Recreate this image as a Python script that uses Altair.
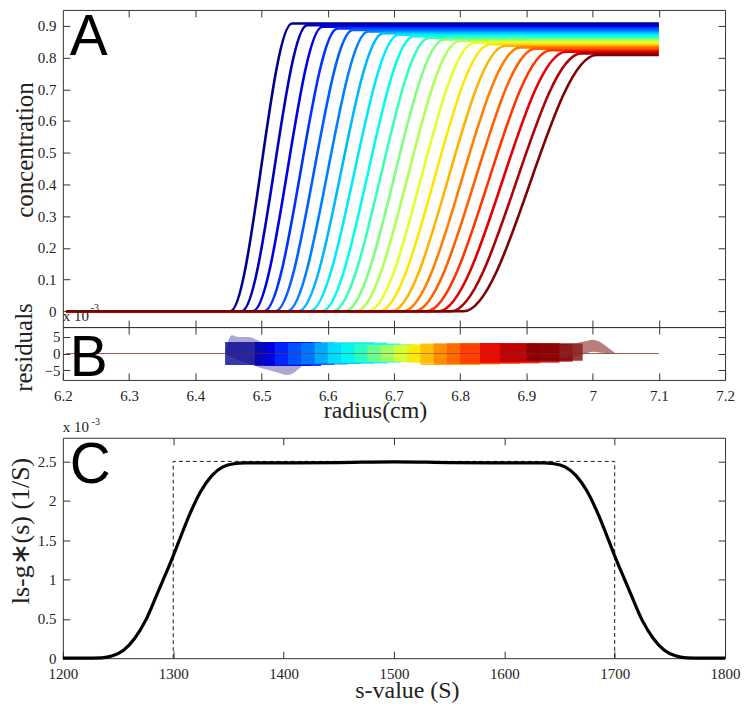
import altair as alt
import pandas as pd

# ---------------- Panel A: concentration profiles (one per scan) ----------------
foot = [6.453, 6.470, 6.487, 6.504, 6.521, 6.539, 6.556, 6.573, 6.591, 6.608, 6.626,
        6.643, 6.661, 6.678, 6.696, 6.714, 6.731, 6.749, 6.767, 6.786, 6.805]
shoulder = [6.546, 6.569, 6.592, 6.615, 6.638, 6.661, 6.684, 6.707, 6.730, 6.753, 6.776,
            6.799, 6.822, 6.845, 6.868, 6.891, 6.914, 6.937, 6.960, 6.983, 7.006]
plateau = [0.907, 0.902, 0.897, 0.892, 0.887, 0.882, 0.877, 0.872, 0.867, 0.862, 0.857,
           0.852, 0.847, 0.842, 0.837, 0.832, 0.828, 0.823, 0.818, 0.813, 0.808]
r_first = 6.205
r_last = 7.10

# ---------------- Panel B: residual envelopes (x 10^-3) ----------------
res_start = [6.445, 6.490, 6.505, 6.520, 6.540, 6.560, 6.580, 6.600, 6.620, 6.640, 6.660,
             6.680, 6.700, 6.720, 6.740, 6.760, 6.780, 6.800, 6.830, 6.860, 6.900]
res_end = [6.560, 6.575, 6.590, 6.610, 6.630, 6.650, 6.670, 6.690, 6.710, 6.730, 6.750,
           6.770, 6.790, 6.810, 6.830, 6.860, 6.890, 6.920, 6.950, 6.970, 6.985]
res_hi = [3.5, 3.5, 3.5, 3.3, 3.2, 3.2, 3.3, 3.3, 3.0, 2.8, 2.6,
          2.5, 2.6, 2.8, 3.0, 3.0, 3.1, 3.1, 3.2, 3.0, 3.0]
res_lo = [-3.5, -3.8, -3.8, -3.5, -3.3, -3.2, -3.0, -3.0, -2.8, -2.6, -2.4,
          -2.4, -2.5, -2.8, -3.5, -3.3, -3.2, -3.0, -2.8, -2.5, -2.2]
first_r = [6.445, 6.455, 6.465, 6.480, 6.500, 6.520, 6.540, 6.560, 6.580]
first_hi = [0.0, 5.5, 5.0, 5.0, 3.5, 2.5, 1.5, 1.0, 0.0]
first_lo = [0.0, -1.0, -2.0, -3.0, -4.5, -5.5, -6.5, -4.0, 0.0]
last_r = [6.950, 6.970, 6.990, 7.000, 7.010, 7.025, 7.035]
last_hi = [2.5, 3.0, 3.8, 4.2, 3.6, 1.5, 0.0]
last_lo = [-1.5, -1.0, 0.0, 0.5, 0.3, 0.0, 0.0]
zero_r = [6.205, 7.10]
zero_v = [0.0, 0.0]

# ---------------- Panel C: ls-g*(s) (x 10^-3) ----------------
s_val = [1200, 1220, 1235, 1245, 1255, 1265, 1275, 1285, 1295, 1300, 1305, 1315, 1325,
         1335, 1345, 1355, 1365, 1380, 1400, 1450, 1500, 1550, 1600, 1620, 1635, 1645,
         1655, 1665, 1675, 1685, 1695, 1700, 1705, 1715, 1725, 1735, 1745, 1755, 1765,
         1780, 1800]
g_val = [0.0, 0.0, 0.005, 0.03, 0.10, 0.25, 0.48, 0.80, 1.13, 1.30, 1.48, 1.83, 2.12,
         2.32, 2.43, 2.47, 2.48, 2.48, 2.48, 2.485, 2.495, 2.485, 2.48, 2.48, 2.48, 2.47,
         2.43, 2.32, 2.12, 1.83, 1.48, 1.30, 1.13, 0.80, 0.48, 0.25, 0.10, 0.03, 0.005,
         0.0, 0.0]
box_s = [1300, 1300, 1700, 1700]
box_g = [0.0, 2.5, 2.5, 0.0]

x_ticks = [6.2, 6.3, 6.4, 6.5, 6.6, 6.7, 6.8, 6.9, 7.0, 7.1, 7.2]
a_ticks = [0, 0.1, 0.2, 0.3, 0.4, 0.5, 0.6, 0.7, 0.8, 0.9]
b_ticks = [-5, 0, 5]
c_xticks = [1200, 1300, 1400, 1500, 1600, 1700, 1800]
c_yticks = [0, 0.5, 1, 1.5, 2, 2.5]

JET = ["#00008f", "#0000ff", "#007fff", "#00ffff", "#7fff7f",
       "#ffff00", "#ff7f00", "#ff0000", "#7f0000"]
N = len(foot)
W = 664
HA, HB, HGAP, HC = 318, 53, 58, 221
SERIF = "Liberation Serif"
TK = 7
INK = "#222222"


def ax(orient, values, labels=True, fmt=None, title=None, pad=7, **kw):
    args = dict(orient=orient, values=values, labels=labels, domain=False, grid=False,
                ticks=True, tickSize=TK, offset=-TK, tickColor="#333333", tickWidth=1,
                labelFont=SERIF, labelFontSize=15, labelColor=INK, labelPadding=pad,
                titleFont=SERIF, titleFontSize=25, titleFontWeight="normal",
                titleColor=INK, labelFlush=False, labelOverlap=False)
    if fmt:
        args["format"] = fmt
    args["title"] = title
    args.update(kw)
    return alt.Axis(**args)


def letter(t, yb, size=57):
    return alt.Chart(pd.DataFrame({"t": [t]})).mark_text(
        font="Liberation Sans", fontSize=size, align="left", baseline="alphabetic",
        color="black").encode(x=alt.value(7), y=alt.value(yb), text="t:N")


def label(t, x, yb, size):
    return alt.Chart(pd.DataFrame({"t": [t]})).mark_text(
        font=SERIF, fontSize=size, align="left", baseline="alphabetic",
        color=INK).encode(x=alt.value(x), y=alt.value(yb), text="t:N")


# ---- Panel A data
rowsA = []
for i in range(N):
    pts = [(r_first, 0.0), (foot[i], 0.0), (shoulder[i], plateau[i]), (r_last, plateau[i])]
    for k, (r, c) in enumerate(pts):
        rowsA.append({"scan": i, "r": r, "c": c, "k": k})
dfA = pd.DataFrame(rowsA)

xA = alt.Scale(domain=[6.2, 7.2], nice=False, zero=False)
yA = alt.Scale(domain=[-0.05, 0.95], nice=False, zero=False)
colorA = alt.Color("scan:Q", scale=alt.Scale(domain=[0, N - 1], range=JET), legend=None)

linesA = alt.Chart(dfA).mark_line(strokeWidth=2.6, interpolate="monotone").encode(
    x=alt.X("r:Q", scale=xA, axis=ax("bottom", x_ticks[1:-1], labels=False)),
    y=alt.Y("c:Q", scale=yA, axis=ax("left", a_ticks, fmt=".1~f",
                                     title="concentration", titleAngle=270,
                                     titleAlign="center", titleBaseline="alphabetic",
                                     titleX=-37.5, titleY=140)),
    color=colorA, detail="scan:N", order="k:Q")

frameA = alt.Chart(pd.DataFrame({"r": [6.2], "c": [0.0]})).mark_point(opacity=0).encode(
    x=alt.X("r:Q", scale=xA, axis=ax("top", x_ticks[1:-1], labels=False)),
    y=alt.Y("c:Q", scale=yA, axis=ax("right", a_ticks, labels=False)))

panelA = alt.layer(linesA, frameA, letter("A", 45),
                   label("x 10", 0, 312, 15), label("-3", 28, 302, 10)).resolve_axis(
    x="independent", y="independent").properties(width=W, height=HA)

# ---- Panel B data
xB = alt.Scale(domain=[6.2, 7.2], nice=False, zero=False)
yB = alt.Scale(domain=[-8, 8], nice=False, zero=False)

dfZero = pd.DataFrame({"r": zero_r, "v": zero_v})
zeroB = alt.Chart(dfZero).mark_line(color="#c98a82", strokeWidth=1).encode(
    x=alt.X("r:Q", scale=xB, axis=ax("bottom", x_ticks, fmt=".1~f", pad=9,
                                     title="radius(cm)", titleX=313, titleY=45,
                                     titleBaseline="alphabetic", titleFontSize=24)),
    y=alt.Y("v:Q", scale=yB, axis=ax("left", b_ticks, fmt="d", pad=3,
                                     title="residuals", titleAngle=270,
                                     titleAlign="center", titleBaseline="alphabetic",
                                     titleX=-38, titleY=20)))

frameB = alt.Chart(pd.DataFrame({"r": [6.2], "v": [0.0]})).mark_point(opacity=0).encode(
    x=alt.X("r:Q", scale=xB, axis=ax("top", x_ticks[1:-1], labels=False)),
    y=alt.Y("v:Q", scale=yB, axis=ax("right", b_ticks, labels=False)))

dfFirst = pd.DataFrame({"r": first_r, "hi": first_hi, "lo": first_lo})
firstB = alt.Chart(dfFirst).mark_area(color="#6a5fb0", opacity=0.55,
                                      interpolate="monotone").encode(
    x=alt.X("r:Q", scale=xB, axis=None), y=alt.Y("hi:Q", scale=yB, axis=None), y2="lo:Q")

dfBand = pd.DataFrame({"scan": list(range(N)), "x0": res_start, "x1": res_end,
                       "hi": res_hi, "lo": res_lo})
bandsB = alt.Chart(dfBand).mark_rect(opacity=0.78).encode(
    x=alt.X("x0:Q", scale=xB, axis=None), x2="x1:Q",
    y=alt.Y("hi:Q", scale=yB, axis=None), y2="lo:Q",
    color=alt.Color("scan:Q", scale=alt.Scale(domain=[0, N - 1], range=JET), legend=None),
    order="scan:Q")

dfLast = pd.DataFrame({"r": last_r, "hi": last_hi, "lo": last_lo})
lastB = alt.Chart(dfLast).mark_area(color="#8a2a2a", opacity=0.6,
                                    interpolate="monotone").encode(
    x=alt.X("r:Q", scale=xB, axis=None), y=alt.Y("hi:Q", scale=yB, axis=None), y2="lo:Q")

zeroTop = alt.Chart(dfZero).mark_line(color="#7a3030", strokeWidth=0.8, opacity=0.6).encode(
    x=alt.X("r:Q", scale=xB, axis=None), y=alt.Y("v:Q", scale=yB, axis=None))

panelB = alt.layer(zeroB, frameB, firstB, bandsB, lastB, zeroTop, letter("B", 49)).resolve_axis(
    x="independent", y="independent").properties(width=W, height=HB)

spacer = alt.Chart(pd.DataFrame({"t": [""]})).mark_text().encode(
    text="t:N").properties(width=W, height=HGAP, view=alt.ViewConfig(stroke=None))

# ---- Panel C
xC = alt.Scale(domain=[1200, 1800], nice=False, zero=False)
yC = alt.Scale(domain=[0, 2.8], nice=False, zero=False)

dfC = pd.DataFrame({"s": s_val, "g": g_val})
curveC = alt.Chart(dfC).mark_line(color="black", strokeWidth=3.2,
                                  interpolate="monotone").encode(
    x=alt.X("s:Q", scale=xC, axis=ax("bottom", c_xticks, fmt="d", pad=8,
                                     title="s-value (S)", titleX=345, titleY=46,
                                     titleBaseline="alphabetic", titleFontSize=24)),
    y=alt.Y("g:Q", scale=yC, axis=ax("left", c_yticks, fmt="~g",
                                     title="ls-g∗(s) (1/S)", titleAngle=270,
                                     titleAlign="center", titleBaseline="alphabetic",
                                     titleX=-41.5, titleY=93, titleFontSize=26)))

dfBox = pd.DataFrame({"s": box_s, "g": box_g, "k": list(range(len(box_s)))})
boxC = alt.Chart(dfBox).mark_line(color="black", strokeWidth=0.9, strokeDash=[4, 3]).encode(
    x=alt.X("s:Q", scale=xC, axis=None), y=alt.Y("g:Q", scale=yC, axis=None), order="k:Q")

frameC = alt.Chart(pd.DataFrame({"s": [1200], "g": [0.0]})).mark_point(opacity=0).encode(
    x=alt.X("s:Q", scale=xC, axis=ax("top", c_xticks[1:-1], labels=False)),
    y=alt.Y("g:Q", scale=yC, axis=ax("right", c_yticks, labels=False)))

panelC = alt.layer(boxC, curveC, frameC, letter("C", 45),
                   label("x 10", 0, -6, 15), label("-3", 29, -13, 10)).resolve_axis(
    x="independent", y="independent").properties(width=W, height=HC)

chart = alt.vconcat(panelA, panelB, spacer, panelC, spacing=0, bounds="flush").properties(
    padding={"left": -1, "top": -1, "right": 5, "bottom": 0}
).configure_view(stroke="#333333", strokeWidth=1)

chart.save("out.html", embed_options={"renderer": "svg", "actions": False})
